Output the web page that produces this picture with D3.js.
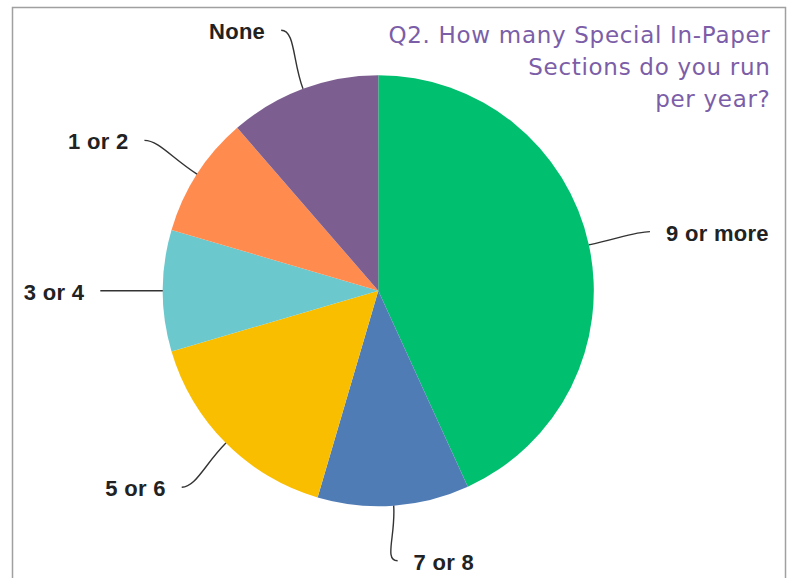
<!DOCTYPE html>
<html>
<head>
<meta charset="utf-8">
<script src="https://cdn.jsdelivr.net/npm/d3@7"></script>
<style>
  html, body { margin: 0; padding: 0; background: #fff; }
  svg { display: block; }
</style>
</head>
<body>
<svg id="chart" width="791" height="578"></svg>
<script>
// Answer categories, clockwise from 12 o'clock
const categories = ["9 or more", "7 or 8", "5 or 6", "3 or 4", "1 or 2", "None"];
// Number of responses per category
const responses = [38, 10, 14, 8, 8, 10];
const sliceColors = ["#00BF6F", "#507CB6", "#F9BE00", "#6BC8CD", "#FF8B4F", "#7D5E90"];
const titleLines = ["Q2. How many Special In-Paper", "Sections do you run", "per year?"];

const width = 791, height = 578;
const cx = 378.3, cy = 290.7, radius = 215.5;
const labelRadius = 278;
const maxLabelY = 270;   // keeps the lowest label inside the frame

const svg = d3.select("#chart");

// frame
svg.append("rect")
  .attr("x", 12.5).attr("y", 7.5)
  .attr("width", 773).attr("height", 600)
  .attr("fill", "none")
  .attr("stroke", "#a0a0a0")
  .attr("stroke-width", 1.5);

const data = categories.map((c, i) => ({ label: c, value: responses[i], color: sliceColors[i] }));

const pie = d3.pie().sort(null).value(d => d.value);
const arcs = pie(data);

const arc = d3.arc().innerRadius(0).outerRadius(radius);

const g = svg.append("g").attr("transform", `translate(${cx},${cy})`);

g.selectAll("path.slice")
  .data(arcs)
  .join("path")
  .attr("class", "slice")
  .attr("d", arc)
  .attr("fill", d => d.data.color);

// polar helper: angle measured clockwise from 12 o'clock
const polar = (a, r) => [r * Math.sin(a), -r * Math.cos(a)];

// leader lines from rim to label
arcs.forEach(d => {
  const mid = (d.startAngle + d.endAngle) / 2;
  const rim = polar(mid, radius);
  let r = labelRadius;
  if (-r * Math.cos(mid) > maxLabelY) r = maxLabelY / -Math.cos(mid);
  const start = polar(mid, r);
  const textLeft = start[0] < 0;
  const dir = textLeft ? 1 : -1;           // line leaves the label away from the text
  const c1 = [start[0] + dir * 14, start[1]];
  const c2 = polar(mid, radius + 30);
  const path = d3.path();
  path.moveTo(start[0], start[1]);
  path.bezierCurveTo(c1[0], c1[1], c2[0], c2[1], rim[0], rim[1]);
  g.append("path")
    .attr("d", path.toString())
    .attr("fill", "none")
    .attr("stroke", "#333")
    .attr("stroke-width", 1.4);

  g.append("text")
    .attr("x", start[0] - dir * 16)
    .attr("y", start[1] + 9)
    .attr("text-anchor", textLeft ? "end" : "start")
    .attr("font-family", "'Liberation Sans', Arial, sans-serif")
    .attr("font-weight", "bold")
    .attr("font-size", 22)
    .attr("letter-spacing", 0.3)
    .attr("fill", "#222")
    .text(d.data.label);
});

// question title, right-aligned in the top corner
svg.append("text")
  .attr("text-anchor", "end")
  .attr("font-family", "'DejaVu Sans', Verdana, sans-serif")
  .attr("font-size", 23)
  .attr("letter-spacing", 0.7)
  .attr("fill", "#7b5ea7")
  .selectAll("tspan")
  .data(titleLines)
  .join("tspan")
  .attr("x", 770.5)
  .attr("y", (d, i) => 42.5 + i * 32.3)
  .text(d => d);
</script>
</body>
</html>
